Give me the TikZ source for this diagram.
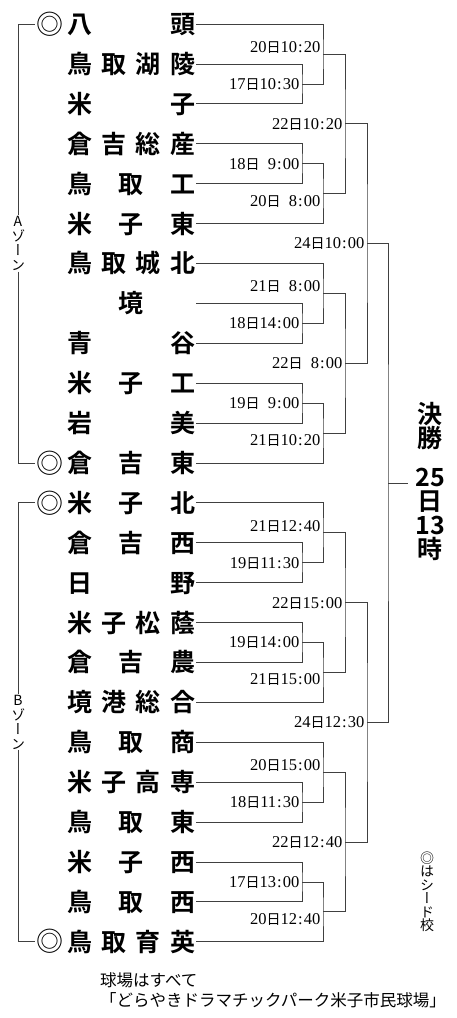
\documentclass[tikz,border=0pt]{standalone}
\usepackage{fontspec}
\setmainfont{Liberation Serif}
\newfontfamily\jp{Noto Sans CJK JP}
\newfontfamily\jpbold{Noto Sans CJK JP Bold}
\newfontfamily\jpvert{Noto Sans CJK JP}[RawFeature=+vert]

\newcommand\school[1]{\makebox[128pt][s]{#1}}
\newcommand\sched[3]{#1{\jp\fontsize{14}{14}\selectfont 日}#2\kern1pt:\kern1pt#3}
\newcommand\fig{\phantom{0}}

\tikzset{
  team/.style={font=\jpbold\fontsize{25}{25}\selectfont, inner sep=1pt, text height=20.75pt, text depth=1.75pt},
  seed/.style={font=\jp\fontsize{27}{27}\selectfont, inner sep=1pt, text height=22.4pt, text depth=1.9pt},
  date/.style={font=\fontsize{16.5}{16.5}\selectfont, inner xsep=2.5pt, inner ysep=1.5pt, text height=10.9pt, text depth=0pt},
  zone/.style={font=\jpvert\fontsize{14}{14.5}\selectfont, align=center, inner sep=1pt},
  bracket/.style={line width=0.7pt, black!75},
}

\begin{document}
\begin{tikzpicture}[x=1pt, y=-39.9pt]
\useasboundingbox (0,-0.6015) rectangle (456,24.912);
% teams, one row each
\node[team] (t0) at (131,0) {\school{八\hfill 頭}};
\node[team] (t1) at (131,1) {\school{鳥\hfill 取\hfill 湖\hfill 陵}};
\node[team] (t2) at (131,2) {\school{米\hfill 子}};
\node[team] (t3) at (131,3) {\school{倉\hfill 吉\hfill 総\hfill 産}};
\node[team] (t4) at (131,4) {\school{鳥\hfill 取\hfill 工}};
\node[team] (t5) at (131,5) {\school{米\hfill 子\hfill 東}};
\node[team] (t6) at (131,6) {\school{鳥\hfill 取\hfill 城\hfill 北}};
\node[team] (t7) at (131,7) {\school{\hfill 境\hfill}};
\node[team] (t8) at (131,8) {\school{青\hfill 谷}};
\node[team] (t9) at (131,9) {\school{米\hfill 子\hfill 工}};
\node[team] (t10) at (131,10) {\school{岩\hfill 美}};
\node[team] (t11) at (131,11) {\school{倉\hfill 吉\hfill 東}};
\node[team] (t12) at (131,12) {\school{米\hfill 子\hfill 北}};
\node[team] (t13) at (131,13) {\school{倉\hfill 吉\hfill 西}};
\node[team] (t14) at (131,14) {\school{日\hfill 野}};
\node[team] (t15) at (131,15) {\school{米\hfill 子\hfill 松\hfill 蔭}};
\node[team] (t16) at (131,16) {\school{倉\hfill 吉\hfill 農}};
\node[team] (t17) at (131,17) {\school{境\hfill 港\hfill 総\hfill 合}};
\node[team] (t18) at (131,18) {\school{鳥\hfill 取\hfill 商}};
\node[team] (t19) at (131,19) {\school{米\hfill 子\hfill 高\hfill 専}};
\node[team] (t20) at (131,20) {\school{鳥\hfill 取\hfill 東}};
\node[team] (t21) at (131,21) {\school{米\hfill 子\hfill 西}};
\node[team] (t22) at (131,22) {\school{鳥\hfill 取\hfill 西}};
\node[team] (t23) at (131,23) {\school{鳥\hfill 取\hfill 育\hfill 英}};
% seeds
\node[seed] (m1) at (49.5,0) {◎};
\node[seed] (m2) at (49.5,11) {◎};
\node[seed] (m3) at (49.5,12) {◎};
\node[seed] (m4) at (49.5,23) {◎};
% zones
\node[zone] (za) at (18,5.5) {A\\ゾ\\ー\\ン};
\node[zone] (zb) at (18,17.5) {B\\ゾ\\ー\\ン};
\draw[bracket] (m1.west) -| (za.north);
\draw[bracket] (za.south) |- (m2.west);
\draw[bracket] (m3.west) -| (zb.north);
\draw[bracket] (zb.south) |- (m4.west);
% junctions
\coordinate (a1) at (302,1.5);
\coordinate (a2) at (302,3.5);
\coordinate (a3) at (302,7.5);
\coordinate (a4) at (302,9.5);
\coordinate (a5) at (302,13.5);
\coordinate (a6) at (302,15.5);
\coordinate (a7) at (302,19.5);
\coordinate (a8) at (302,21.5);
\coordinate (b1) at (323,0.75);
\coordinate (b2) at (323,4.25);
\coordinate (b3) at (323,6.75);
\coordinate (b4) at (323,10.25);
\coordinate (b5) at (323,12.75);
\coordinate (b6) at (323,16.25);
\coordinate (b7) at (323,18.75);
\coordinate (b8) at (323,22.25);
\coordinate (c1) at (345,2.5);
\coordinate (c2) at (345,8.5);
\coordinate (c3) at (345,14.5);
\coordinate (c4) at (345,20.5);
\coordinate (d1) at (367,5.5);
\coordinate (d2) at (367,17.5);
\coordinate (e) at (388,11.5);
\coordinate (fin) at (408,11.5);
% bracket lines
\draw[bracket] (t1.east) -| (a1) |- (t2.east);
\draw[bracket] (t3.east) -| (a2) |- (t4.east);
\draw[bracket] (t7.east) -| (a3) |- (t8.east);
\draw[bracket] (t9.east) -| (a4) |- (t10.east);
\draw[bracket] (t13.east) -| (a5) |- (t14.east);
\draw[bracket] (t15.east) -| (a6) |- (t16.east);
\draw[bracket] (t19.east) -| (a7) |- (t20.east);
\draw[bracket] (t21.east) -| (a8) |- (t22.east);
\draw[bracket] (t0.east) -| (b1) |- (a1);
\draw[bracket] (a2) -| (b2) |- (t5.east);
\draw[bracket] (t6.east) -| (b3) |- (a3);
\draw[bracket] (a4) -| (b4) |- (t11.east);
\draw[bracket] (t12.east) -| (b5) |- (a5);
\draw[bracket] (a6) -| (b6) |- (t17.east);
\draw[bracket] (t18.east) -| (b7) |- (a7);
\draw[bracket] (a8) -| (b8) |- (t23.east);
\draw[bracket] (b1) -| (c1) |- (b2);
\draw[bracket] (b3) -| (c2) |- (b4);
\draw[bracket] (b5) -| (c3) |- (b6);
\draw[bracket] (b7) -| (c4) |- (b8);
\draw[bracket] (c1) -| (d1) |- (c2);
\draw[bracket] (c3) -| (d2) |- (c4);
\draw[bracket] (d1) -| (e) |- (d2);
\draw[bracket] (e) -- (fin);
% dates
\node[date, left] (la1) at (a1) {\sched{17}{10}{30}};
\node[date, left] (la2) at (a2) {\sched{18}{\fig 9}{00}};
\node[date, left] (la3) at (a3) {\sched{18}{14}{00}};
\node[date, left] (la4) at (a4) {\sched{19}{\fig 9}{00}};
\node[date, left] (la5) at (a5) {\sched{19}{11}{30}};
\node[date, left] (la6) at (a6) {\sched{19}{14}{00}};
\node[date, left] (la7) at (a7) {\sched{18}{11}{30}};
\node[date, left] (la8) at (a8) {\sched{17}{13}{00}};
\node[date, above left] (lb1) at (b1) {\sched{20}{10}{20}};
\node[date, below left] (lb2) at (b2) {\sched{20}{\fig 8}{00}};
\node[date, above left] (lb3) at (b3) {\sched{21}{\fig 8}{00}};
\node[date, below left] (lb4) at (b4) {\sched{21}{10}{20}};
\node[date, above left] (lb5) at (b5) {\sched{21}{12}{40}};
\node[date, below left] (lb6) at (b6) {\sched{21}{15}{00}};
\node[date, above left] (lb7) at (b7) {\sched{20}{15}{00}};
\node[date, below left] (lb8) at (b8) {\sched{20}{12}{40}};
\node[date, left] (lc1) at (c1) {\sched{22}{10}{20}};
\node[date, left] (lc2) at (c2) {\sched{22}{\fig 8}{00}};
\node[date, left] (lc3) at (c3) {\sched{22}{15}{00}};
\node[date, left] (lc4) at (c4) {\sched{22}{12}{40}};
\node[date, left] (ld1) at (d1) {\sched{24}{10}{00}};
\node[date, left] (ld2) at (d2) {\sched{24}{12}{30}};
% final, notes
\node[font=\jpbold\fontsize{25}{24}\selectfont, align=center, inner sep=0pt] (title) at (430,10.075) {決\\勝};
\node[font=\jpbold\fontsize{25}{24}\selectfont, align=center, inner sep=0pt] (day) at (430,12.28) {25\\日\\13\\時};
\node[font=\jpvert\fontsize{14}{13.5}\selectfont, align=center, inner sep=0pt] (seednote) at (427,21.754) {◎\\は\\シ\\ー\\ド\\校};
\node[font=\jp\fontsize{16.5}{20}\selectfont, align=left, anchor=west, inner sep=0pt] (venue) at (100,24.21) {球場はすべて\\「どらやきドラマチックパーク米子市民球場」};
\end{tikzpicture}
\end{document}
